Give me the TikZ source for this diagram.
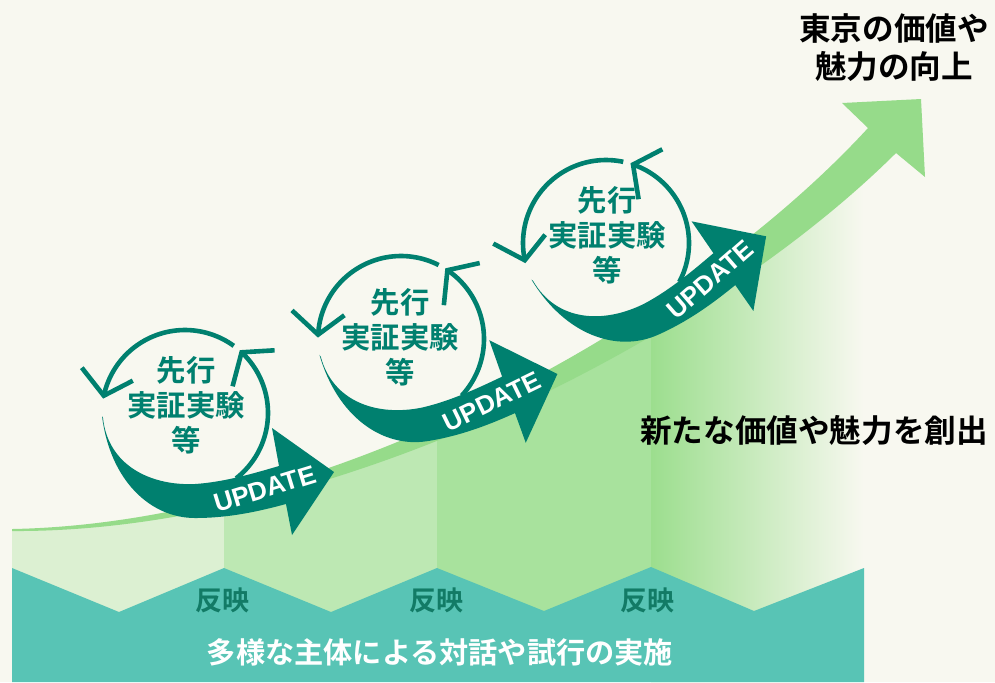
\documentclass[tikz,border=0pt]{standalone}
\usepackage{fontspec}
\newfontfamily\jp{Noto Sans CJK JP}[BoldFont={Noto Sans CJK JP Bold}]
\newfontfamily\lsans{Liberation Sans}
\definecolor{bgc}{HTML}{F8F8F0}
\definecolor{colA}{HTML}{DCF0D2}
\definecolor{colB}{HTML}{BDE8B3}
\definecolor{colC}{HTML}{A8E29D}
\definecolor{colD}{HTML}{9CDE8E}
\definecolor{bandc}{HTML}{96DB8A}
\definecolor{bottomc}{HTML}{58C4B5}
\definecolor{tealc}{HTML}{00806F}
\definecolor{labelc}{HTML}{127B66}
\tikzset{
  thinarc/.style={draw=tealc, line width=2.3pt, line join=miter, line cap=butt},
  cyctext/.style={text=tealc, font=\jp\bfseries\fontsize{14.7pt}{17.5pt}\selectfont, align=center, inner sep=0pt},
  updtext/.style={text=white, font=\lsans\bfseries\fontsize{13pt}{13pt}\selectfont, inner sep=0pt},
  hanei/.style={text=labelc, font=\jp\bfseries\fontsize{13.5pt}{16pt}\selectfont, inner sep=0pt},
  maintext/.style={text=white, font=\jp\bfseries\fontsize{14.6pt}{17pt}\selectfont, inner sep=0pt},
  blacktext/.style={text=black, font=\jp\bfseries\fontsize{15.8pt}{19pt}\selectfont, align=center, inner sep=0pt},
}
\newcommand\drawcycle[4]{%
\begin{scope}[shift={(#1,#2)}, rotate=#3]
  \fill[tealc] (-82,5) .. controls (-77,52) and (-35,73) .. (10,71)
     .. controls (40,69) and (70,60) .. (94,53) -- (87,15) -- (149,59) -- (107,122) -- (101,91)
     .. controls (75,98) and (45,105) .. (10,105)
     .. controls (-35,105) and (-75,67) .. (-83,3) -- cycle;
  \draw[thinarc] plot[domain=-168:-54, samples=50, variable=\t] ({83*cos(\t)},{83*sin(\t)});
  \draw[thinarc] plot[domain=-47:52, samples=50, variable=\t] ({83*cos(\t)},{83*sin(\t)});
  \draw[thinarc] (-103.2,-45.3) -- (-81.2,-17.3) -- (-52.2,-32.3);
  \draw[thinarc] (47.6,-26.7) -- (56.6,-60.7) -- (89.6,-62.7);
  \node[updtext, rotate=17+#3] (upd#4) at (80,76) {UPDATE};
\end{scope}}
\begin{document}
\begin{tikzpicture}[x=0.5pt,y=-0.5pt]
\useasboundingbox (0,0) rectangle (995,682);
\fill[bgc] (0,0) rectangle (995,682);
% columns under the curve
\begin{scope}
  \clip (12,530) .. controls (330,524) and (690,323) .. (868,128) -- (868,682) -- (12,682) -- cycle;
  \fill[colA] (12,0) rectangle (224,682);
  \fill[colB] (224,0) rectangle (437,682);
  \fill[colC] (437,0) rectangle (651,682);
  \shade[left color=colD, right color=bgc] (651,0) rectangle (864,682);
\end{scope}
% rising green arrow
\fill[bandc] (12,529) .. controls (330,523) and (690,322) .. (868,128) -- (842,103) -- (921,99)
   -- (925,177) -- (896,153) .. controls (708,340) and (330,533) .. (12,531) -- cycle;
% bottom band
\fill[bottomc] (12,568) -- (119,612) -- (224,568) -- (331,612) -- (437,568) -- (544,611)
   -- (651,567) -- (754,611) -- (864,568) -- (864,682) -- (12,682) -- cycle;
\node[hanei] (h1) at (222,600) {反映};
\node[hanei] (h2) at (436,600) {反映};
\node[hanei] (h3) at (647,600) {反映};
\node[maintext] (main) at (440,652) {多様な主体による対話や試行の実施};
\node[blacktext] (right) at (814,430) {新たな価値や魅力を創出};
\node[blacktext] (top) at (894,48) {東京の価値や\\魅力の向上};
% cycles
\drawcycle{185}{413}{0}{1}
\drawcycle{401}{339}{9}{2}
\drawcycle{606}{243}{24}{3}
\node[cyctext] (c1) at (186,405) {先行\\実証実験\\等};
\node[cyctext] (c2) at (400,337) {先行\\実証実験\\等};
\node[cyctext] (c3) at (607,235) {先行\\実証実験\\等};
\end{tikzpicture}
\end{document}
